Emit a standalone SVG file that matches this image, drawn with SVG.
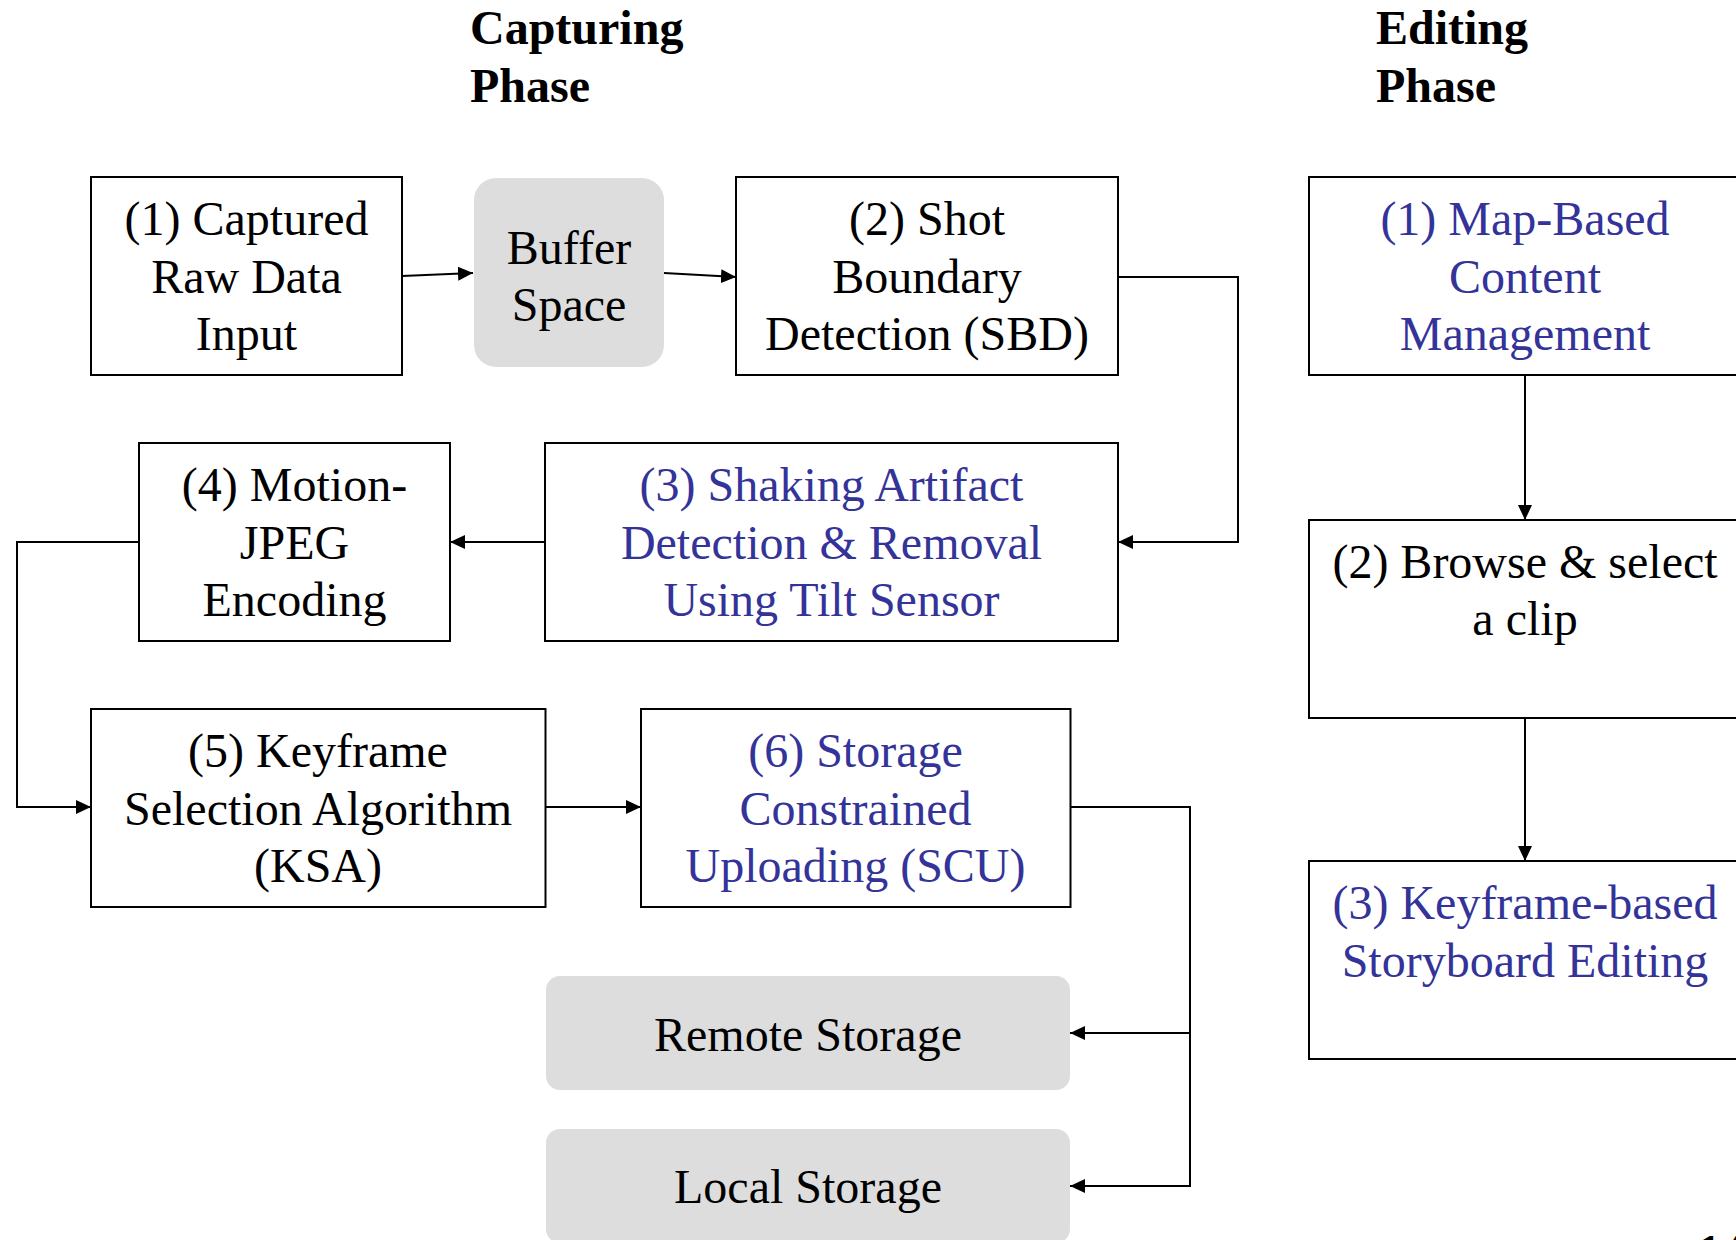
<svg xmlns="http://www.w3.org/2000/svg" width="1736" height="1240" viewBox="0 0 1736 1240">
<style>
.box{fill:#ffffff;stroke:#000000;stroke-width:2}
.gray{fill:#dddddd;stroke:none}
.t{font-family:"Liberation Serif","Times New Roman",serif;font-size:48px;fill:#000000;text-anchor:middle}
.b{fill:#333399}
.h{font-family:"Liberation Serif","Times New Roman",serif;font-size:48px;font-weight:bold;fill:#000000}
.c{fill:none;stroke:#000000;stroke-width:2;marker-end:url(#ah)}
</style>
<defs>
<marker id="ah" markerUnits="userSpaceOnUse" markerWidth="15" markerHeight="14" refX="15" refY="7" orient="auto">
<path d="M0,0 L15,7 L0,14 Z" fill="#000000"/>
</marker>
</defs>
<rect x="0" y="0" width="1736" height="1240" fill="#ffffff"/>
<g id="headers">
<text class="h" x="470" y="44">Capturing</text>
<text class="h" x="470" y="102">Phase</text>
<text class="h" x="1376" y="44">Editing</text>
<text class="h" x="1376" y="102">Phase</text>
</g>
<g id="connectors">
<path class="c" d="M402,276 L473,273"/>
<path class="c" d="M664,273 L736,277"/>
<path class="c" d="M1118,277 H1238 V542 H1118"/>
<path class="c" d="M545,542 H450"/>
<path class="c" d="M139,542 H17 V807 H91"/>
<path class="c" d="M545,807 H641"/>
<path class="c" d="M1070,807 H1190 V1186 H1070"/>
<path class="c" d="M1190,1033 H1070"/>
<path class="c" d="M1525,375 V520"/>
<path class="c" d="M1525,718 V861"/>
</g>
<g id="n1">
<rect class="box" x="91" y="177" width="311" height="198"/>
<text class="t" x="246.5" y="235">(1) Captured</text>
<text class="t" x="246.5" y="293">Raw Data</text>
<text class="t" x="246.5" y="350">Input</text>
</g>
<g id="buffer">
<rect class="gray" x="474" y="178" width="190" height="189" rx="22"/>
<text class="t" x="569" y="264">Buffer</text>
<text class="t" x="569" y="321">Space</text>
</g>
<g id="n2">
<rect class="box" x="736" y="177" width="382" height="198"/>
<text class="t" x="927" y="235">(2) Shot</text>
<text class="t" x="927" y="293">Boundary</text>
<text class="t" x="927" y="350">Detection (SBD)</text>
</g>
<g id="n3">
<rect class="box" x="545" y="443" width="573" height="198"/>
<text class="t b" x="831.5" y="501">(3) Shaking Artifact</text>
<text class="t b" x="831.5" y="559">Detection &amp; Removal</text>
<text class="t b" x="831.5" y="616">Using Tilt Sensor</text>
</g>
<g id="n4">
<rect class="box" x="139" y="443" width="311" height="198"/>
<text class="t" x="294.5" y="501">(4) Motion-</text>
<text class="t" x="294.5" y="559">JPEG</text>
<text class="t" x="294.5" y="616">Encoding</text>
</g>
<g id="n5">
<rect class="box" x="91" y="709" width="454.5" height="198"/>
<text class="t" x="318" y="767">(5) Keyframe</text>
<text class="t" x="318" y="825">Selection Algorithm</text>
<text class="t" x="318" y="882">(KSA)</text>
</g>
<g id="n6">
<rect class="box" x="641" y="709" width="429.5" height="198"/>
<text class="t b" x="855.5" y="767">(6) Storage</text>
<text class="t b" x="855.5" y="825">Constrained</text>
<text class="t b" x="855.5" y="882">Uploading (SCU)</text>
</g>
<g id="remote">
<rect class="gray" x="546" y="976" width="524" height="114" rx="14"/>
<text class="t" x="808" y="1051">Remote Storage</text>
</g>
<g id="local">
<rect class="gray" x="546" y="1129" width="524" height="114" rx="14"/>
<text class="t" x="808" y="1203">Local Storage</text>
</g>
<g id="e1">
<rect class="box" x="1309" y="177" width="432" height="198"/>
<text class="t b" x="1525" y="235">(1) Map-Based</text>
<text class="t b" x="1525" y="293">Content</text>
<text class="t b" x="1525" y="350">Management</text>
</g>
<g id="e2">
<rect class="box" x="1309" y="520" width="432" height="198"/>
<text class="t" x="1525" y="578">(2) Browse &amp; select</text>
<text class="t" x="1525" y="635">a clip</text>
</g>
<g id="e3">
<rect class="box" x="1309" y="861" width="432" height="198"/>
<text class="t b" x="1525" y="919">(3) Keyframe-based</text>
<text class="t b" x="1525" y="977">Storyboard Editing</text>
</g>
<g id="pagenum">
<text class="h" x="1697" y="1268">14</text>
</g>
</svg>
